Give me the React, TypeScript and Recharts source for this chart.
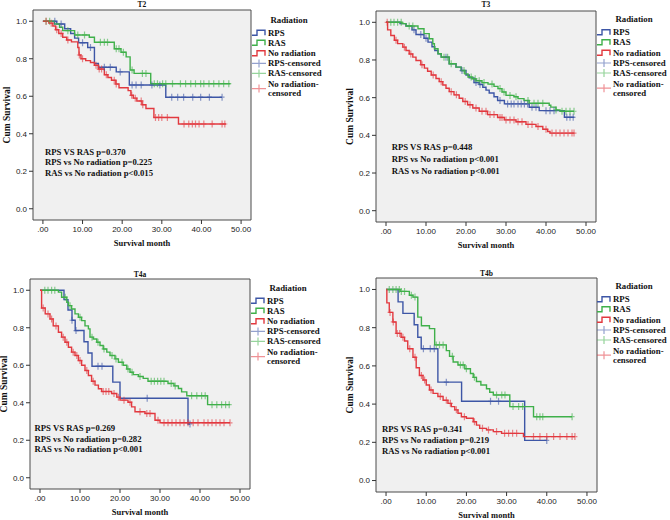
import { ComposedChart, Line, Scatter, XAxis, YAxis, CartesianGrid } from 'recharts'

type Step = [number, number]

const groups = ['RPS', 'RAS', 'No radiation']
const colors = ['#3d56a6', '#3fb04a', '#e2393f']
const xTicks = [0, 10, 20, 30, 40, 50]
const yTicks = [0, 0.2, 0.4, 0.6, 0.8, 1.0]

// T2
const t2Rps: Step[] = [[0, 1], [3.5, 0.985], [5.5, 0.96], [7, 0.935], [8, 0.91], [9, 0.885], [11.3, 0.86], [13, 0.775], [14, 0.755], [18.5, 0.73], [21.8, 0.66], [31, 0.595], [45.2, 0.595]]
const t2RpsCens = [3, 4.6, 10, 12, 15.5, 17, 19.5, 22.5, 23.5, 24.8, 27.5, 29.5, 32.5, 34, 35.5, 37.8, 39.8, 42, 45.2]
const t2Ras: Step[] = [[0, 1], [2.9, 0.985], [4.2, 0.968], [5, 0.95], [8, 0.927], [11.7, 0.915], [13, 0.888], [18, 0.853], [19.7, 0.835], [21, 0.81], [22, 0.74], [23, 0.722], [27.2, 0.667], [47.3, 0.667]]
const t2RasCens = [0.8, 1.7, 6.3, 8.8, 10.5, 14.5, 15.5, 16.3, 18.5, 19.2, 20.3, 22.5, 25.1, 26, 28.1, 28.9, 30.2, 31, 32.7, 34.7, 36, 37.3, 38.5, 39.8, 40.6, 41.9, 43.1, 44.4, 45.6, 46.9]
const t2No: Step[] = [[0, 1], [1.5, 0.99], [2.5, 0.975], [3.2, 0.955], [4, 0.935], [5, 0.915], [6, 0.9], [7.2, 0.89], [8.8, 0.86], [9.1, 0.82], [9.6, 0.8], [10.8, 0.79], [12, 0.78], [13, 0.765], [14, 0.745], [15.5, 0.715], [16.4, 0.7], [17.3, 0.685], [18.4, 0.665], [19.2, 0.645], [21.5, 0.63], [22.2, 0.605], [22.8, 0.59], [23.7, 0.575], [25, 0.555], [26, 0.535], [28, 0.487], [34.2, 0.452], [46.2, 0.452]]
const t2NoCens = [0.8, 2.1, 3.5, 4.6, 6.3, 9.2, 10, 13.4, 14.2, 14.8, 16, 18, 18.5, 22.4, 23.3, 24.8, 25.2, 28.4, 29.2, 30, 31.4, 35.6, 36.8, 37.7, 38.5, 39.4, 40.6, 42.7, 45.2, 45.9]
const t2Notes = ['RPS VS RAS p=0.370', 'RPS vs No radiation p=0.225', 'RAS vs No radiation p<0.015']

// T3
const t3Rps: Step[] = [[0, 1], [3.5, 0.993], [5, 0.98], [6.5, 0.96], [7.5, 0.935], [9.5, 0.915], [10.5, 0.895], [11.5, 0.87], [12.2, 0.85], [13, 0.833], [13.8, 0.815], [15.8, 0.78], [17.5, 0.762], [18.8, 0.744], [20, 0.72], [20.8, 0.705], [22, 0.68], [23.3, 0.67], [24.2, 0.655], [25, 0.64], [25.8, 0.625], [27, 0.605], [27.9, 0.585], [29.6, 0.567], [35.8, 0.549], [38.3, 0.531], [44.6, 0.496], [47.1, 0.496]]
const t3RpsCens = [7, 8.7, 10, 15, 19, 22.5, 23.5, 28.5, 30.4, 31.3, 32, 33, 33.8, 34.6, 35.4, 36.5, 37.5, 40, 41, 42, 45.2, 46, 46.8]
const t3Ras: Step[] = [[0, 1], [4, 0.993], [5, 0.98], [8, 0.966], [9.5, 0.94], [10.8, 0.913], [11.7, 0.886], [12.1, 0.86], [13, 0.833], [13.8, 0.815], [15.8, 0.78], [17.5, 0.762], [18.8, 0.744], [19.7, 0.726], [20.5, 0.71], [21.5, 0.7], [22.5, 0.69], [24, 0.68], [25.5, 0.672], [27, 0.66], [28, 0.648], [29, 0.63], [30, 0.612], [32, 0.605], [33, 0.595], [34.5, 0.585], [35.8, 0.57], [40.8, 0.56], [41.2, 0.55], [42.5, 0.535], [43.5, 0.528], [47, 0.528]]
const t3RasCens = [1.2, 2, 2.9, 3.8, 5.8, 6.7, 14.5, 15.4, 16.3, 19.5, 21.3, 22.3, 23.3, 24.5, 26.5, 28.5, 29.5, 31, 32.5, 35.5, 37, 38, 39.2, 42.5, 44, 45, 46, 47]
const t3No: Step[] = [[0, 1], [0.4, 0.96], [1.2, 0.93], [2.1, 0.905], [2.9, 0.887], [4.2, 0.868], [5, 0.85], [5.8, 0.832], [6.7, 0.815], [7.5, 0.797], [8.7, 0.775], [9.6, 0.757], [10.4, 0.74], [11.3, 0.72], [12.5, 0.702], [13.3, 0.685], [14.2, 0.667], [15, 0.65], [15.8, 0.632], [17, 0.615], [18.3, 0.597], [19.2, 0.58], [20.4, 0.562], [21.7, 0.545], [23.3, 0.528], [25.4, 0.51], [27.9, 0.495], [29.6, 0.482], [32.5, 0.472], [35, 0.458], [37.5, 0.447], [39.2, 0.432], [40.4, 0.42], [41, 0.412], [47.1, 0.412]]
const t3NoCens = [0.3, 2.5, 4.6, 6.2, 9, 11.8, 13.8, 16.3, 17.6, 19.8, 21, 22.5, 24, 25, 26, 27, 28.5, 29, 30, 31, 32, 33, 34, 35.5, 36.5, 38, 40, 41.5, 42.5, 43.5, 44.5, 45.5, 46.5, 47]
const t3Notes = ['RPS VS RAS p=0.448', 'RPS vs No radiation p<0.001', 'RAS vs No radiation p<0.001']

// T4a
const t4aRps: Step[] = [[0, 1], [6, 0.95], [7, 0.895], [8, 0.84], [8.8, 0.785], [11, 0.725], [12, 0.665], [13, 0.595], [18.2, 0.51], [20, 0.424], [37, 0.287], [37.5, 0.287]]
const t4aRpsCens = [8, 9, 14.5, 15.5, 26.8, 37.5]
const t4aRas: Step[] = [[0, 1], [4.6, 0.99], [5.4, 0.963], [6.7, 0.936], [7.1, 0.918], [7.9, 0.9], [8.75, 0.874], [9.6, 0.856], [10.4, 0.838], [11.25, 0.81], [12.1, 0.794], [12.5, 0.75], [13.3, 0.74], [14.2, 0.723], [15, 0.705], [15.8, 0.687], [16.7, 0.67], [17.5, 0.652], [18.75, 0.634], [19.6, 0.616], [20.8, 0.6], [21.7, 0.58], [22.5, 0.563], [23.3, 0.55], [24.6, 0.54], [25.8, 0.53], [27, 0.515], [32, 0.503], [33.5, 0.49], [34.6, 0.476], [35.4, 0.458], [36.7, 0.437], [41.9, 0.39], [47.5, 0.39]]
const t4aRasCens = [1.2, 2, 2.9, 3.7, 6.3, 7.5, 10, 13, 14.5, 16, 18, 19, 20.5, 22, 23, 25, 27.8, 28.6, 29.4, 30.2, 31, 32.8, 33.8, 37.9, 39.2, 40.4, 41.3, 43, 44.2, 45.4, 46.4, 47.3]
const t4aNo: Step[] = [[0, 1], [0.4, 0.905], [1.3, 0.874], [2.5, 0.847], [3.3, 0.81], [4.6, 0.776], [5.4, 0.75], [6.25, 0.723], [7.1, 0.696], [7.9, 0.67], [8.75, 0.652], [9.6, 0.625], [10.4, 0.6], [11.25, 0.572], [12.1, 0.545], [12.9, 0.515], [13.75, 0.494], [14.6, 0.475], [15.4, 0.46], [17.9, 0.449], [19.2, 0.43], [20, 0.414], [22, 0.403], [22.9, 0.378], [23.75, 0.352], [26.25, 0.343], [28.75, 0.307], [30, 0.293], [47.5, 0.293]]
const t4aNoCens = [0.8, 2, 2.9, 4, 5.8, 6.7, 8.3, 9.2, 10, 11.7, 13.3, 15.8, 16.5, 17.2, 18.5, 19.6, 21, 22.5, 25, 26.7, 27.5, 29.5, 31, 32, 33, 34, 35, 36, 37, 38.3, 39.5, 41, 42, 43, 44, 45, 46, 47.5]
const t4aNotes = ['RPS VS RAS p=0.269', 'RPS vs No radiation p=0.282', 'RAS vs No radiation p<0.001']

// T4b
const t4bRps: Step[] = [[0, 1], [3, 0.935], [4.2, 0.875], [7, 0.815], [7.9, 0.75], [8.75, 0.69], [12.9, 0.515], [18.8, 0.415], [34.5, 0.21], [40, 0.21]]
const t4bRpsCens = [9.3, 11, 12, 15, 26, 28, 40]
const t4bRas: Step[] = [[0, 1], [3.5, 0.99], [5.8, 0.97], [6.7, 0.96], [7.9, 0.855], [8.8, 0.81], [10.8, 0.795], [12.1, 0.71], [15, 0.68], [15.8, 0.65], [16.7, 0.62], [17.9, 0.605], [19.6, 0.585], [21, 0.56], [21.7, 0.54], [22.5, 0.518], [23.6, 0.5], [25, 0.48], [25.8, 0.462], [26.7, 0.448], [30.8, 0.387], [36.7, 0.334], [46.3, 0.334]]
const t4bRasCens = [0.8, 1.7, 2.5, 3.3, 3.8, 4.6, 6.3, 7.2, 12.5, 13.3, 14.2, 16.5, 18.5, 19.2, 20, 22, 27.5, 28.8, 29.6, 31.6, 33, 34, 37.5, 38.3, 39, 46.3]
const t4bNo: Step[] = [[0, 1], [0.2, 0.93], [0.8, 0.88], [1.7, 0.83], [2.5, 0.77], [3.75, 0.75], [4.6, 0.73], [5.4, 0.69], [6.7, 0.645], [7.5, 0.59], [8.3, 0.55], [9.2, 0.526], [10, 0.5], [10.8, 0.474], [11.7, 0.456], [12.9, 0.44], [14.2, 0.42], [15.4, 0.404], [16.25, 0.387], [17.1, 0.37], [17.9, 0.352], [18.75, 0.334], [20, 0.326], [21.7, 0.308], [22.5, 0.29], [23.3, 0.273], [25, 0.265], [26.7, 0.256], [28.75, 0.247], [34.2, 0.23], [47, 0.23]]
const t4bNoCens = [1, 1.8, 2.8, 3.4, 4.2, 5.9, 7.2, 8.8, 9.6, 11.2, 13.5, 15, 16, 17.5, 19.5, 22, 24, 25.5, 27.5, 29.5, 30.5, 31.5, 32.5, 36.7, 38.3, 40, 41.7, 43.3, 45, 46.3, 47]
const t4bNotes = ['RPS VS RAS p=0.341', 'RPS vs No radiation p=0.219', 'RAS vs No radiation p<0.001']

const serif = '"Liberation Serif", "Times New Roman", serif'
const sans = '"Liberation Sans", Arial, sans-serif'

function survivalAt(steps: Step[], t: number) {
  let s = steps[0][1]
  for (const [x, y] of steps) if (x <= t) s = y
  return s
}

const fmtX = (v: number) => (v === 0 ? '.00' : v.toFixed(2))

interface Box { x: number; y: number; w: number; h: number }
interface Curve { steps: Step[]; cens: number[] }

function KmChart({ box, curves }: { box: Box; curves: Curve[] }) {
  const W = box.w + 36
  const H = box.h + 42
  const tick = { fontSize: 8, fill: '#222', fontFamily: sans }
  return (
    <div style={{ position: 'absolute', left: box.x - 34, top: box.y - 12 }}>
      <ComposedChart width={W} height={H} margin={{ top: 12, right: 2, bottom: 5, left: 4 }}>
        <CartesianGrid
          fill="#f0f0f0"
          stroke="#4a4a4a"
          strokeWidth={1}
          horizontalPoints={[12, 12 + box.h]}
          verticalPoints={[34, 34 + box.w]}
        />
        <XAxis
          type="number"
          dataKey="t"
          domain={[-2.5, 52.5]}
          ticks={xTicks}
          tickFormatter={fmtX}
          height={25}
          axisLine={false}
          tickSize={4}
          tickLine={{ stroke: '#333' }}
          tick={tick}
          allowDataOverflow
        />
        <YAxis
          type="number"
          dataKey="s"
          domain={[-0.06, 1.06]}
          ticks={yTicks}
          tickFormatter={(v: number) => v.toFixed(1)}
          width={30}
          axisLine={false}
          tickSize={4}
          tickLine={{ stroke: '#333' }}
          tick={tick}
          allowDataOverflow
        />
        {curves.map((c, i) => (
          <Line
            key={'line' + i}
            data={c.steps.map(([t, s]) => ({ t, s }))}
            dataKey="s"
            type="stepAfter"
            stroke={colors[i]}
            strokeWidth={1.4}
            dot={false}
            activeDot={false}
            isAnimationActive={false}
          />
        ))}
        {curves.map((c, i) => (
          <Scatter
            key={'cens' + i}
            data={c.cens.map((t) => ({ t, s: survivalAt(c.steps, t) }))}
            isAnimationActive={false}
            shape={(p: any) => (
              <path
                d={`M${p.cx - 2.5},${p.cy}H${p.cx + 2.5}M${p.cx},${p.cy - 3.5}V${p.cy + 3.5}`}
                stroke={colors[i]}
                strokeOpacity={0.6}
                strokeWidth={1.2}
                fill="none"
              />
            )}
          />
        ))}
      </ComposedChart>
    </div>
  )
}

interface PanelText {
  box: Box
  title: string
  titleY: number
  notes: string[]
  notesX: number
  notesY: number[]
  legendX: number
  legendY: number
}

function Texts({ p }: { p: PanelText }) {
  const cx = p.box.x + p.box.w / 2
  const cy = p.box.y + p.box.h / 2
  const off = [0, 10, 20.5, 30.7, 40.7, 51.3, 60.5]
  const lx = p.legendX
  const ly = p.legendY
  return (
    <g fontFamily={serif} fontWeight="bold" fill="#111">
      <text x={cx} y={p.titleY + 2.6} textAnchor="middle" fontSize={7.5}>{p.title}</text>
      <text x={cx} y={p.box.y + p.box.h + 26} textAnchor="middle" fontSize={8.5}>Survival month</text>
      <text
        transform={`translate(${p.box.x - 23.5},${cy}) rotate(-90)`}
        textAnchor="middle"
        fontSize={9.5}
      >
        Cum Survival
      </text>
      {p.notes.map((n, i) => (
        <text key={n} x={p.notesX} y={p.notesY[i] + 3} fontSize={8.7}>{n}</text>
      ))}
      <text x={lx + 37} y={ly - 13 + 3} textAnchor="middle" fontSize={8.8}>Radiation</text>
      {groups.map((g, i) => (
        <g key={g}>
          <path
            d={`M${lx},${ly + off[i] + 2.5}h5v-5h8v5`}
            stroke={colors[i]}
            strokeWidth={1.4}
            fill="none"
          />
          <text x={lx + 16} y={ly + off[i] + 3} fontSize={8.8}>{g}</text>
        </g>
      ))}
      {groups.map((g, i) => {
        const yy = i < 2 ? ly + off[3 + i] : ly + (off[5] + off[6]) / 2
        return (
          <g key={g + 'c'}>
            <path
              d={`M${lx},${yy}h14M${lx + 7},${yy - 4}v8`}
              stroke={colors[i]}
              strokeOpacity={0.55}
              strokeWidth={1.2}
              fill="none"
            />
            {i < 2 ? (
              <text x={lx + 16} y={yy + 3} fontSize={8.8}>{g}-censored</text>
            ) : (
              <>
                <text x={lx + 16} y={ly + off[5] + 3} fontSize={8.8}>{g}-</text>
                <text x={lx + 16} y={ly + off[6] + 3} fontSize={8.8}>censored</text>
              </>
            )}
          </g>
        )
      })}
    </g>
  )
}

const panels: { text: PanelText; curves: Curve[] }[] = [
  {
    text: { box: { x: 33, y: 10, w: 218, h: 210 }, title: 'T2', titleY: 4.5, notes: t2Notes, notesX: 45, notesY: [151.7, 162.3, 173], legendX: 252, legendY: 32.7 },
    curves: [{ steps: t2Rps, cens: t2RpsCens }, { steps: t2Ras, cens: t2RasCens }, { steps: t2No, cens: t2NoCens }],
  },
  {
    text: { box: { x: 376, y: 11, w: 220, h: 211 }, title: 'T3', titleY: 4.5, notes: t3Notes, notesX: 391.7, notesY: [146.7, 159, 170.7], legendX: 597, legendY: 32.3 },
    curves: [{ steps: t3Rps, cens: t3RpsCens }, { steps: t3Ras, cens: t3RasCens }, { steps: t3No, cens: t3NoCens }],
  },
  {
    text: { box: { x: 30, y: 279, w: 220, h: 210 }, title: 'T4a', titleY: 274.3, notes: t4aNotes, notesX: 34.5, notesY: [428, 438.5, 449], legendX: 251, legendY: 300.7 },
    curves: [{ steps: t4aRps, cens: t4aRpsCens }, { steps: t4aRas, cens: t4aRasCens }, { steps: t4aNo, cens: t4aNoCens }],
  },
  {
    text: { box: { x: 376, y: 278, w: 221, h: 214 }, title: 'T4b', titleY: 273.5, notes: t4bNotes, notesX: 382, notesY: [429, 440, 451], legendX: 597, legendY: 299.3 },
    curves: [{ steps: t4bRps, cens: t4bRpsCens }, { steps: t4bRas, cens: t4bRasCens }, { steps: t4bNo, cens: t4bNoCens }],
  },
]

export default function App() {
  return (
    <div style={{ position: 'absolute', left: 0, top: 0, width: 670, height: 520, background: '#fff', overflow: 'hidden' }}>
      {panels.map((p) => (
        <KmChart key={p.text.title} box={p.text.box} curves={p.curves} />
      ))}
      <svg width={670} height={520} style={{ position: 'absolute', left: 0, top: 0, pointerEvents: 'none' }}>
        {panels.map((p) => (
          <Texts key={p.text.title} p={p.text} />
        ))}
      </svg>
    </div>
  )
}
